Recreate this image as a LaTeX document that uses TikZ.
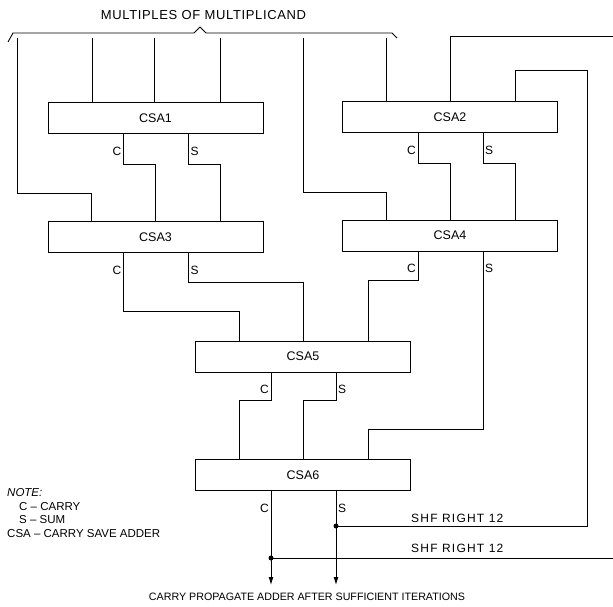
\documentclass[tikz,border=0pt]{standalone}
\usepackage{fontspec}
\setmainfont{Liberation Sans}
\newfontfamily\widefont[LetterSpace=10]{Liberation Sans}
\newfontfamily\titlefont[LetterSpace=5]{Liberation Sans}
\usetikzlibrary{arrows.meta}

\begin{document}
\begin{tikzpicture}[x=1pt, y=-1pt,
        csabox/.style={draw, line width=1pt, minimum width=215pt, minimum height=31pt,
            inner sep=0pt, font=\fontsize{12.5}{14}\selectfont},
        wire/.style={line width=0.9pt},
        lbl/.style={inner sep=1pt, font=\fontsize{12}{14}\selectfont}]
        \useasboundingbox (0,0) rectangle (613,607);

        % Multiples of the multiplicand
        \node[font=\titlefont\fontsize{13}{15}\selectfont] (title) at (203.5,15) {MULTIPLES OF MULTIPLICAND};
        \draw[wire] (8,42) -- (13,33) -- (194,33) -- (200,27) -- (206,33) -- (392,33) -- (397,38);
        \foreach \x [count=\i] in {17, 92, 154, 220, 303, 386}
            \coordinate (m\i) at (\x,38);

        % Adders
        \node[csabox] (csa1) at (155.5,118.5) {CSA1};
        \node[csabox] (csa2) at (450,117.5) {CSA2};
        \node[csabox] (csa3) at (155.5,237) {CSA3};
        \node[csabox] (csa4) at (450,235.5) {CSA4};
        \node[csabox] (csa5) at (303,356.5) {CSA5};
        \node[csabox] (csa6) at (303,475) {CSA6};
        \foreach \n in {1,...,6} {
            \node[lbl, anchor=east] (c\n) at ([xshift=-33pt, yshift=-17pt]csa\n.south) {C};
            \node[lbl, anchor=west] (s\n) at ([xshift=34pt, yshift=-17pt]csa\n.south) {S};
        }

        % Inputs
        \foreach \i in {2,3,4}
            \draw[wire] (m\i) -- (m\i |- csa1.north);
        \draw[wire] (m6) -- (m6 |- csa2.north);
        \draw[wire] (m1) -- ++(0,155) -| ([xshift=-64pt]csa3.north);
        \draw[wire] (m5) -- ++(0,154) -| ([xshift=-64pt]csa4.north);

        % Carry and sum
        \foreach \a/\b in {csa1/csa3, csa2/csa4} {
            \draw[wire] ([xshift=-32pt]\a.south) -- ++(0,30) -| (\b.north);
            \draw[wire] ([xshift=33pt]\a.south) -- ++(0,30) -| ([xshift=65pt]\b.north);
        }
        \draw[wire] ([xshift=-32pt]csa3.south) -- ++(0,58) -| ([xshift=-64pt]csa5.north);
        \draw[wire] ([xshift=33pt]csa3.south) -- ++(0,29) -| (csa5.north);
        \draw[wire] ([xshift=-32pt]csa4.south) -- ++(0,29) -| ([xshift=65pt]csa5.north);
        \draw[wire] ([xshift=33pt]csa4.south) -- ++(0,178) -| ([xshift=65pt]csa6.north);
        \draw[wire] ([xshift=-32pt]csa5.south) -- ++(0,28) -| ([xshift=-64pt]csa6.north);
        \draw[wire] ([xshift=33pt]csa5.south) -- ++(0,28) -| (csa6.north);

        % Outputs and feedback
        \coordinate (cout) at ([xshift=-32pt]csa6.south);
        \coordinate (sout) at ([xshift=33pt]csa6.south);
        \coordinate (sdot) at ([yshift=-35pt]sout);
        \coordinate (cdot) at ([yshift=-67pt]cout);
        \coordinate (innerturn) at (587,70);
        \coordinate (outerturn) at (617,36);
        \draw[wire, -{Latex[length=8pt, width=5pt]}] (cout) -- ++(0,94);
        \draw[wire, -{Latex[length=8pt, width=5pt]}] (sout) -- ++(0,94);
        \draw[wire] (sdot) -| (innerturn) -| ([xshift=65pt]csa2.north);
        \draw[wire] (cdot) -| (outerturn) -| (csa2.north);
        \fill (sdot) circle (2.5pt);
        \fill (cdot) circle (2.5pt);
        \node[lbl, anchor=west, font=\widefont\fontsize{12}{14}\selectfont] (shf1) at (410,518) {SHF RIGHT 12};
        \node[lbl, anchor=west, font=\widefont\fontsize{12}{14}\selectfont] (shf2) at (410,548) {SHF RIGHT 12};
        \node[lbl, font=\fontsize{10.7}{13}\selectfont] (cpa) at (307,597) {CARRY PROPAGATE ADDER AFTER SUFFICIENT ITERATIONS};

        % Note
        \node[anchor=north west, align=left, inner sep=0pt, font=\fontsize{11.5}{13.8}\selectfont] (note) at (7,488)
            {\itshape NOTE:\\ \hspace*{12pt}C -- CARRY\\ \hspace*{12pt}S -- SUM\\ CSA -- CARRY SAVE ADDER};
    \end{tikzpicture}
\end{document}
